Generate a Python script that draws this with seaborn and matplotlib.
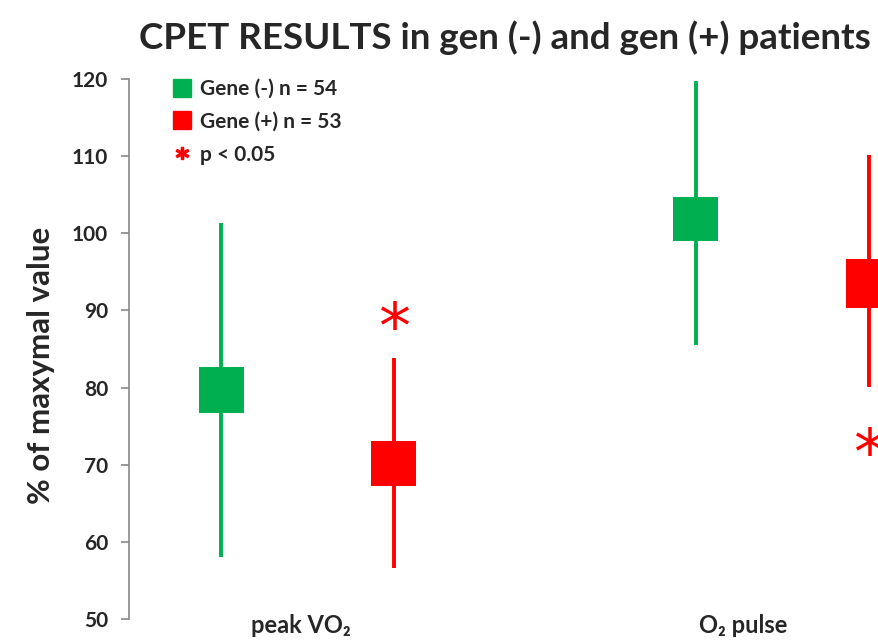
import matplotlib
matplotlib.use("Agg")
import matplotlib.pyplot as plt
from matplotlib.lines import Line2D
import seaborn as sns

# values (% of maximal value)
categories = ["peak VO₂", "O₂ pulse"]
groups = ["Gene (-) n = 54", "Gene (+) n = 53"]

neg_min = [58.0, 85.5]
neg_max = [101.3, 119.8]
neg_box_lo = [76.7, 99.0]
neg_box_hi = [82.7, 104.7]

pos_min = [56.6, 80.1]
pos_max = [83.8, 110.1]
pos_box_lo = [67.2, 90.3]
pos_box_hi = [73.1, 96.7]

star_y = [89.5, 73.1]

GREEN = "#00B050"
RED = "#FF0000"
FONT = ["Lato", "DejaVu Sans"]

sns.set_style("white")
plt.rcParams["font.family"] = FONT
plt.rcParams["font.weight"] = "bold"

fig = plt.figure(figsize=(8.79, 6.4), dpi=100)
ax = fig.add_axes([129 / 879, 21 / 640, 750 / 879, 540 / 640])

offset = 0.182
width = 0.095
label_x = [-0.014, 0.917]
for i, cat in enumerate(categories):
    for sign, lo, hi, blo, bhi, col in [
        (-1, neg_min, neg_max, neg_box_lo, neg_box_hi, GREEN),
        (1, pos_min, pos_max, pos_box_lo, pos_box_hi, RED),
    ]:
        x = i + sign * offset
        ax.vlines(x, lo[i], hi[i], color=col, lw=2.8, zorder=2)
        ax.bar(x, bhi[i] - blo[i], bottom=blo[i], width=width, color=col,
               linewidth=0, zorder=3)
    # glyph sits high in its box, so nudge it down to centre on star_y
    ax.text(i + offset, star_y[i] - 2.0, "*", color=RED, fontsize=46,
            ha="center", va="center", family="DejaVu Sans", fontweight="normal")
    ax.text(label_x[i], 49.2, cat, ha="center", va="center", fontsize=17,
            fontweight="bold", clip_on=False)

ax.set_xlim(-0.376, 1.204)
ax.set_ylim(50, 120)
ax.set_yticks(range(50, 121, 10))
ax.set_xticks([])
ax.tick_params(axis="y", length=6, width=1.2, color="#888888", labelsize=15,
               pad=9, left=True)
for lab in ax.get_yticklabels():
    lab.set_fontweight("bold")
sns.despine(ax=ax, top=True, right=True, bottom=True)
ax.spines["left"].set_color("#888888")
ax.spines["left"].set_linewidth(1.2)

ax.set_ylabel("% of maxymal value", fontsize=22.5, fontweight="bold")
ax.yaxis.set_label_coords(-0.099, 0.47)

handles = [
    Line2D([], [], marker="s", color=GREEN, ls="", markersize=13),
    Line2D([], [], marker="s", color=RED, ls="", markersize=13),
    Line2D([], [], marker="$*$", color=RED, ls="", markersize=9),
]
leg = ax.legend(handles, groups + ["p < 0.05"], loc="upper left",
                bbox_to_anchor=(0.03, 1.035), frameon=False, fontsize=15,
                handletextpad=0.35, labelspacing=0.62, handlelength=1.1)
for t in leg.get_texts():
    t.set_fontweight("bold")

fig.text(505 / 879, 1 - 38 / 640, "CPET RESULTS in gen (-) and gen (+) patients",
         ha="center", va="center", fontsize=26.5, fontweight="bold")

fig.savefig("out.png", dpi=100)
